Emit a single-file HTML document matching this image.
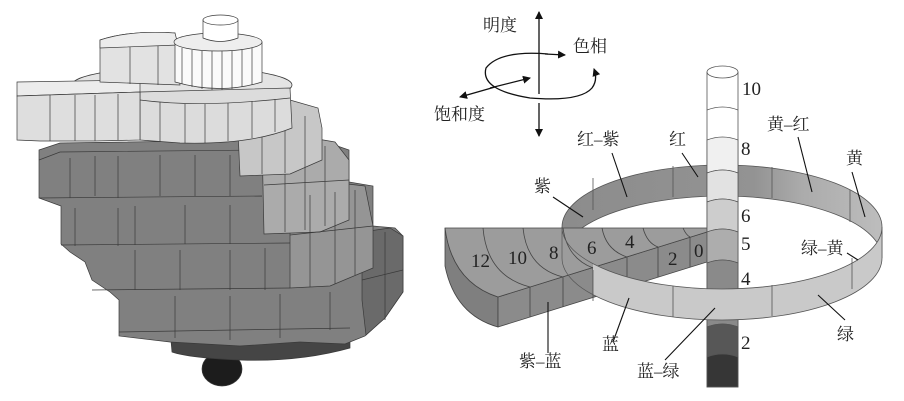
<!DOCTYPE html>
<html><head><meta charset="utf-8"><style>
html,body{margin:0;padding:0;background:#fff;}
svg{display:block;}
.c{font-family:"Liberation Serif","Noto Serif CJK SC",serif;font-size:17px;fill:#222;}
.n{font-family:"Liberation Serif",serif;font-size:19px;fill:#222;}
</style></head><body>
<svg width="904" height="401" viewBox="0 0 904 401" xmlns="http://www.w3.org/2000/svg">
<defs>
<marker id="ah" markerWidth="8" markerHeight="8" refX="7" refY="4" orient="auto" markerUnits="userSpaceOnUse"><path d="M0,0 L8,4 L0,8 Z" fill="#111"/></marker>
<linearGradient id="bk" x1="0" x2="1" y1="0" y2="0"><stop offset="0" stop-color="#8c8c8c"/><stop offset="0.6" stop-color="#939393"/><stop offset="0.75" stop-color="#ababab"/><stop offset="1" stop-color="#bdbdbd"/></linearGradient>
<clipPath id="cr"><rect x="593" y="0" width="311" height="401"/></clipPath>
<clipPath id="cl"><rect x="540" y="0" width="53" height="401"/></clipPath>
</defs>

<!-- ===== LEFT 3D SOLID ===== -->
<g stroke="#3a3a3a" stroke-width="0.7">
<ellipse cx="222" cy="369" rx="20" ry="17" fill="#1c1c1c"/>
<path d="M170,330 L350,328 L350,348 Q300,362 240,360 Q190,358 172,352 Z" fill="#454545"/>
<!-- body silhouette -->
<path d="M39,150 L60,143 L262,140 L320,140 L349,150 L349,182 L373,186 L373,226 L395,228 L403,236 L403,292 L385,318 L365,336 L345,344 L300,342 L240,346 L170,342 L119,336 L119,300 L110,292 L92,280 L85,262 L70,252 L61,244 L61,206 L39,198 Z" fill="#808080"/>
<!-- right spiral rings -->
<path d="M362,232 L390,228 L403,236 L403,292 L385,318 L366,335 L362,300 Z" fill="#6a6a6a"/>
<path d="M290,192 L330,182 L365,186 L373,226 L373,268 L330,286 L290,288 Z" fill="#959595"/>
<path d="M262,140 L300,136 L335,142 L349,160 L349,220 L320,232 L264,234 Z" fill="#ababab"/>
<!-- grid lines on body -->
<g fill="none">
<path d="M39,198 L262,196"/><path d="M61,245 L290,243"/><path d="M92,290 L290,288"/><path d="M119,332 L350,328"/>
<path d="M39,160 L60,152 L262,150"/>
<path d="M70,158 V198 M95,156 V196 M118,156 V198 M160,155 V196 M195,155 V196 M230,155 V196"/>
<path d="M75,208 V246 M118,208 V246 M135,206 V245 M185,205 V244 M230,205 V244"/>
<path d="M135,250 V290 M180,250 V290 M230,250 V290 M265,248 V290"/>
<path d="M175,296 V338 M230,296 V340 M280,294 V338 M330,292 V330"/>
<path d="M310,195 V287 M335,192 V284 M355,190 V275 M290,235 L373,226"/>
<path d="M285,150 V232 M305,146 V230 M325,146 V226 M264,185 L349,180"/>
<path d="M385,232 V320 M362,280 L403,270"/>
</g>
<!-- light right ring -->
<path d="M237,108 L290,100 L318,108 L322,128 L322,160 L290,174 L240,176 Z" fill="#c7c7c7"/>
<path d="M262,120 V174 M285,118 V173 M305,116 V168" fill="none"/>
<!-- big light ring -->
<ellipse cx="182" cy="85" rx="110" ry="18" fill="#e4e4e4"/>
<path d="M140,92 L290,88 L292,128 Q250,145 180,143 L140,140 Z" fill="#dcdcdc"/>
<path d="M140,100 Q200,108 290,98" fill="none"/>
<path d="M160,102 V142 M185,104 V143 M205,104 V143 M228,103 V141 M252,101 V138 M275,99 V132" fill="none"/>
<!-- wing -->
<path d="M17,82 L140,80 L140,92 L17,96 Z" fill="#ececec"/>
<path d="M17,96 L140,92 L140,140 L95,141 L40,141 L17,140 Z" fill="#dedede"/>
<path d="M50,95 V141 M75,95 V141 M95,95 V141 M118,94 V140" fill="none"/>
<!-- light top block -->
<path d="M100,40 Q130,30 175,33 L180,85 L100,82 Z" fill="#e2e2e2"/>
<path d="M100,40 Q130,30 175,33 L178,45 L100,48 Z" fill="#ececec"/>
<path d="M130,47 V84 M158,46 V85" fill="none"/>
<!-- white ring -->
<path d="M175,42 L262,42 L262,82 Q220,95 175,82 Z" fill="#fafafa"/>
<ellipse cx="218" cy="42" rx="44" ry="9" fill="#eeeeee"/>
<path d="M182,48 V84 M192,50 V87 M202,51 V89 M212,51 V90 M222,51 V90 M232,51 V89 M242,50 V87 M252,48 V85" fill="none"/>
<!-- cylinder -->
<path d="M203,20 V38 Q220,45 238,38 V20 Z" fill="#fff"/>
<ellipse cx="220.5" cy="20" rx="17.5" ry="5" fill="#fff"/>
</g>

<!-- ===== RIGHT DIAGRAM ===== -->
<g stroke="#111" stroke-width="1.3" fill="none">
<line x1="539" y1="94" x2="539" y2="12" marker-end="url(#ah)"/>
<line x1="539" y1="103" x2="539" y2="136" marker-end="url(#ah)"/>
<path d="M548,54 Q500,50 486,68 Q480,90 530,98 Q580,102 592,88 Q598,80 594,69" marker-end="url(#ah)"/>
<line x1="545" y1="54" x2="565" y2="55" marker-end="url(#ah)"/>
<line x1="490" y1="88" x2="530" y2="78" marker-end="url(#ah)"/>
<line x1="495" y1="87" x2="460" y2="97" marker-end="url(#ah)"/>
</g>
<text class="c" x="483" y="31">明度</text>
<text class="c" x="573" y="52">色相</text>
<text class="c" x="434" y="120">饱和度</text>

<!-- back ring -->
<path d="M562,227 A160,62 0 0 1 882,227 L882,258 A160,62 0 0 0 562,258 Z" fill="url(#bk)" stroke="#555" stroke-width="0.8"/>
<path d="M593,178 V210 M673,166 V197 M772,167 V198 M850,190 V222" stroke="#555" stroke-width="0.8"/>
<!-- front ring left part (behind sector) -->
<path clip-path="url(#cl)" d="M562,227 A160,62 0 0 0 882,227 L882,258 A160,62 0 0 1 562,258 Z" fill="#c9c9c9" stroke="#555" stroke-width="0.8"/>

<!-- sector -->
<g stroke="#444" stroke-width="0.8">
<path d="M445,228 L445,266 Q455,315 498,327 L498,297 Q452,282 445,228 Z" fill="#7f7f7f"/>
<path d="M498,297 L707,232 L707,262 L498,327 Z" fill="#8b8b8b"/>
<path d="M445,228 L707,228 L707,232 L498,297 Q452,282 445,228 Z" fill="#9c9c9c"/>
<g fill="none">
<path d="M483,228 Q487,276 530,287"/>
<path d="M523,228 Q527,268 563,277"/>
<path d="M563,228 Q567,258 593,268"/>
<path d="M602,228 Q606,250 627,257"/>
<path d="M643,228 Q647,243 658,247"/>
<path d="M683,228 Q686,235 690,237"/>
<path d="M530,287 V317 M563,277 V307 M593,268 V298 M627,257 V287 M658,247 V277 M690,237 V267"/>
</g>
</g>
<!-- ring lines seen through sector top -->
<path clip-path="url(#cl)" d="M562,227 A160,62 0 0 0 882,227 M562,258 A160,62 0 0 0 882,258 M562,227 V258" fill="none" stroke="#555" stroke-width="0.7"/>
<text class="n" x="471" y="267">12</text>
<text class="n" x="508" y="264">10</text>
<text class="n" x="549" y="259">8</text>
<text class="n" x="587" y="254">6</text>
<text class="n" x="625" y="248">4</text>
<text class="n" x="668" y="265">2</text>
<text class="n" x="694" y="257">0</text>

<!-- pole -->
<g stroke="#555" stroke-width="0.8">
<rect x="707" y="72" width="31" height="315" fill="#ffffff"/>
<path d="M707,140 Q722.5,134 738,140 V173 Q722.5,167 707,173 Z" fill="#f0f0f0"/>
<path d="M707,173 Q722.5,167 738,173 V202 Q722.5,196 707,202 Z" fill="#e2e2e2"/>
<path d="M707,202 Q722.5,196 738,202 V232 Q722.5,226 707,232 Z" fill="#cdcdcd"/>
<path d="M707,232 Q722.5,226 738,232 V263 Q722.5,257 707,263 Z" fill="#adadad"/>
<path d="M707,263 Q722.5,257 738,263 V327 Q722.5,321 707,327 Z" fill="#8a8a8a"/>
<path d="M707,327 Q722.5,321 738,327 V357 Q722.5,351 707,357 Z" fill="#575757"/>
<path d="M707,357 Q722.5,351 738,357 V387 H707 Z" fill="#363636"/>
<path d="M707,110 Q722.5,104 738,110" fill="none"/>
<ellipse cx="722.5" cy="72" rx="15.5" ry="6" fill="#fff"/>
</g>

<!-- front ring right part -->
<path clip-path="url(#cr)" d="M562,227 A160,62 0 0 0 882,227 L882,258 A160,62 0 0 1 562,258 Z" fill="#c9c9c9" stroke="#555" stroke-width="0.8"/>
<path d="M593,270 V301 M673,286 V317 M772,285 V316 M852,258 V289" stroke="#555" stroke-width="0.8"/>

<!-- pole labels -->
<text class="n" x="742" y="95">10</text>
<text class="n" x="741" y="155">8</text>
<text class="n" x="741" y="222">6</text>
<text class="n" x="741" y="250">5</text>
<text class="n" x="741" y="285">4</text>
<text class="n" x="741" y="349">2</text>

<!-- leaders -->
<g stroke="#111" stroke-width="1.1">
<line x1="612" y1="153" x2="627" y2="197"/>
<line x1="682" y1="153" x2="698" y2="177"/>
<line x1="553" y1="197" x2="583" y2="217"/>
<line x1="798" y1="137" x2="812" y2="192"/>
<line x1="852" y1="172" x2="865" y2="217"/>
<line x1="847" y1="253" x2="858" y2="260"/>
<line x1="845" y1="320" x2="818" y2="295"/>
<line x1="665" y1="360" x2="715" y2="308"/>
<line x1="613" y1="342" x2="629" y2="298"/>
<line x1="548" y1="353" x2="548" y2="302"/>
</g>
<text class="c" x="577" y="145">红–紫</text>
<text class="c" x="669" y="145">红</text>
<text class="c" x="534" y="192">紫</text>
<text class="c" x="767" y="130">黄–红</text>
<text class="c" x="846" y="164">黄</text>
<text class="c" x="801" y="254">绿–黄</text>
<text class="c" x="837" y="340">绿</text>
<text class="c" x="637" y="377">蓝–绿</text>
<text class="c" x="602" y="350">蓝</text>
<text class="c" x="519" y="367">紫–蓝</text>
</svg>
</body></html>
